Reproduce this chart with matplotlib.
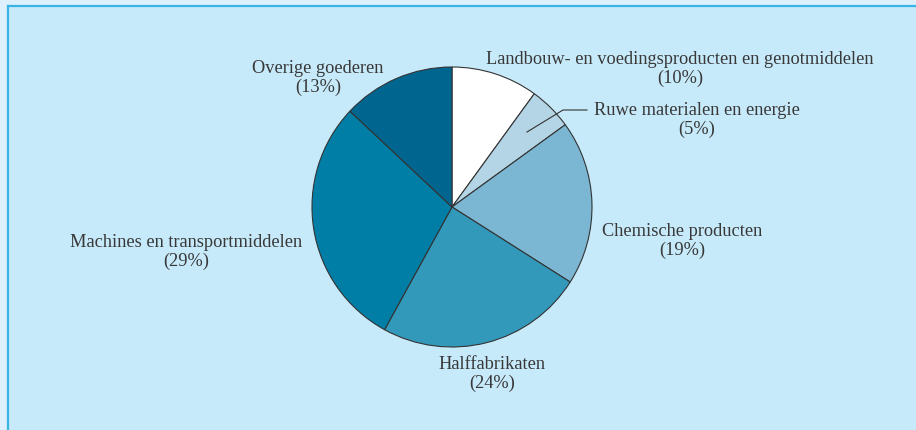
import matplotlib
matplotlib.use('Agg')
import matplotlib.pyplot as plt
from matplotlib.patches import Rectangle

# categories and shares (%)
labels = ['Landbouw- en voedingsproducten en genotmiddelen',
          'Ruwe materialen en energie',
          'Chemische producten',
          'Halffabrikaten',
          'Machines en transportmiddelen',
          'Overige goederen']
shares = [10, 5, 19, 24, 29, 13]
colors = ['#ffffff', '#b4d5e5', '#7bb6d2', '#3399bb', '#007ea6', '#00668f']

# label centres in pixel coords (x, y from top)
label_pos = [(680, 69), (697, 120), (682, 241), (492, 374), (186, 252), (318, 78)]

W, H = 916, 430
plt.rcParams['font.family'] = ['Liberation Serif', 'DejaVu Serif']

fig = plt.figure(figsize=(W / 100, H / 100), dpi=100)
fig.patch.set_facecolor('#ddf0fd')
ax = fig.add_axes([0, 0, 1, 1])

# panel with a border on left and top
ax.add_patch(Rectangle((7.5, 0), W, H - 5.5, facecolor='#c7eafa', edgecolor='none', zorder=0))
ax.plot([7.5, 7.5], [0, H - 5.5], color='#3ab4e4', lw=1.6, zorder=1)
ax.plot([7.5, W], [H - 5.5, H - 5.5], color='#3ab4e4', lw=1.6, zorder=1)

cx, cy, r = 452, H - 207, 140
ax.pie(shares, colors=colors, startangle=90, counterclock=False,
       center=(cx, cy), radius=r, frame=True,
       wedgeprops=dict(edgecolor='#333333', linewidth=0.8))
ax.set_xlim(0, W)
ax.set_ylim(0, H)
ax.set_aspect('equal')
ax.axis('off')

for lab, s, (x, y) in zip(labels, shares, label_pos):
    ax.text(x, H - y, lab + '\n(' + str(s) + '%)', ha='center', va='center',
            fontsize=13.2, color='#383838', linespacing=1.06)

# leader line for the small slice
ax.plot([527, 563, 587], [H - 132, H - 110, H - 110], color='#333333', lw=0.8)

fig.savefig('out.png', dpi=100, facecolor=fig.get_facecolor())
